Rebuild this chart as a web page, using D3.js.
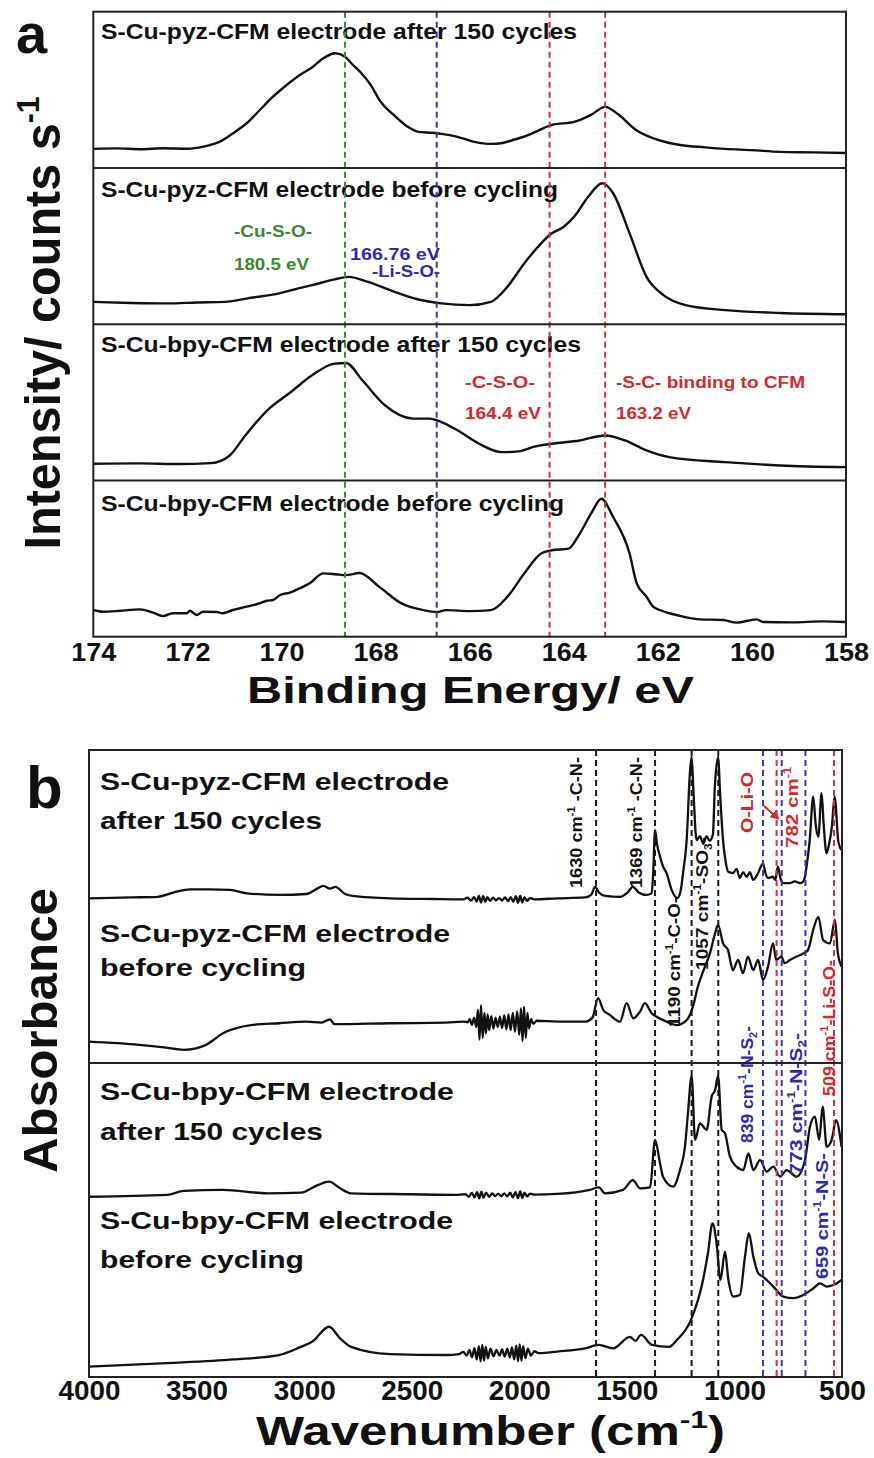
<!DOCTYPE html>
<html><head><meta charset="utf-8">
<script src="https://cdn.jsdelivr.net/npm/d3@7"></script>
<style>html,body{margin:0;padding:0;background:#fff}</style>
</head><body>
<svg id="c" width="874" height="1458"></svg>
<script>
// ================= DATA =================
// Panel a : XPS S 2p, binding energy (eV) vs intensity (a.u., per sub-panel)
const xpsTicks = [174, 172, 170, 168, 166, 164, 162, 160, 158];
const xpsTitles = [
  "S-Cu-pyz-CFM electrode after 150 cycles",
  "S-Cu-pyz-CFM electrode before cycling",
  "S-Cu-bpy-CFM electrode after 150 cycles",
  "S-Cu-bpy-CFM electrode before cycling"
];
const xpsRefLines = [168.65, 166.7, 164.3, 163.12];
const xpsPyzAfter = [[174,12.2],[173.5,12.5],[173,12.0],[172.5,12.6],[172,12.3],[171.66,13.6],[171.31,16.8],[171.03,22.2],[170.74,28.6],[170.46,37.1],[170.18,45.6],[169.89,53.1],[169.61,59.5],[169.33,64.8],[169.11,70.2],[168.86,73.4],[168.65,71.2],[168.48,65.9],[168.33,61.6],[168.1,53],[167.92,43.6],[167.57,32.7],[167.3,26],[167.09,23.1],[166.8,22.5],[166.6,21.8],[166.26,19.9],[165.9,16.7],[165.55,15.4],[165.3,16.0],[165.08,17.9],[164.8,20.5],[164.6,23.1],[164.25,27.6],[163.78,29.5],[163.42,34.0],[163.12,39.1],[162.83,34.0],[162.47,24.4],[162.12,19.2],[161.8,16.3],[161.52,14.7],[161,13.2],[160.57,12.2],[160,11.4],[159.4,10.3],[158.7,10.0],[158,9.6]];
const xpsPyzBefore = [[174,14.3],[173.2,13.6],[172.4,13.3],[171.8,13.9],[171.2,14.3],[170.65,16.9],[170.05,19.7],[169.7,22.5],[169.35,25.0],[168.87,28.7],[168.58,30.3],[168.16,27.1],[167.69,21.8],[167.09,15.8],[166.6,13.3],[166.0,12.2],[165.55,14.3],[165.2,23.9],[164.84,38.9],[164.48,51.7],[164.3,57.1],[164.0,62.4],[163.78,68.8],[163.48,81.6],[163.18,90.2],[162.95,83.8],[162.6,58.1],[162.24,30.3],[161.88,18.6],[161.41,12.2],[160.57,9.0],[159.4,7.2],[158,6.4]];
const xpsBpyAfter = [[174,10.7],[173,10.9],[172.2,10.5],[171.5,11.1],[171.1,16.0],[170.77,28.8],[170.3,44.9],[169.8,56.6],[169.35,67.3],[168.87,74.8],[168.63,75.2],[168.28,64.1],[167.8,48.1],[167.21,39.6],[166.85,39.6],[166.6,37.4],[166.26,32.1],[165.8,23.5],[165.32,18.1],[164.96,18.6],[164.6,21.8],[164.25,23.5],[163.66,25.6],[163.12,28.8],[162.7,25.6],[162.24,19.2],[161.76,14.9],[160.57,11.7],[159.4,9.6],[158,8.5]];
const xpsBpyBefore = [[174,17.1],[173.79,16.0],[173.43,16.6],[173.01,17.5],[172.73,15.4],[172.52,13.2],[172.31,15.0],[172.01,15.0],[171.95,16.6],[171.8,13.9],[171.67,16.0],[171.37,15.8],[171.25,15.0],[171.03,17.1],[170.74,19.2],[170.46,21.4],[170.31,23.0],[170.18,23.5],[170.03,26.7],[169.82,28.2],[169.61,31.0],[169.4,34.2],[169.11,40.5],[168.85,40.0],[168.63,39.4],[168.34,40.8],[167.92,31.9],[167.45,21.3],[166.98,17.0],[166.7,15.8],[166.5,17.0],[166.0,16.4],[165.55,17.0],[165.2,25.5],[164.84,40.5],[164.48,53.2],[164.25,55.3],[163.9,56.4],[163.66,66.0],[163.42,78.7],[163.2,88.3],[162.95,76.6],[162.6,53.2],[162.45,34.2],[162.24,25.6],[162.1,19.2],[161.96,17.1],[161.75,15.0],[161.46,12.8],[161.11,11.1],[160.61,10.7],[160.33,9.0],[159.9,11.1],[159.76,9.4],[159.13,9.2],[158.5,9.8],[158,9.4]];

// Panel b : FTIR, wavenumber (cm-1) vs absorbance (a.u., offset inside each box)
const ftirTicks = [4000, 3500, 3000, 2500, 2000, 1500, 1000, 500];
const ftirTitles = [
  ["S-Cu-pyz-CFM electrode", "after 150 cycles"],
  ["S-Cu-pyz-CFM electrode", "before cycling"],
  ["S-Cu-bpy-CFM electrode", "after 150 cycles"],
  ["S-Cu-bpy-CFM electrode", "before cycling"]
];
const ftirBlackLines = [1643, 1369, 1199, 1075];
const ftirBlueLines = [867, 780, 670];
const ftirRedLines = [804, 537];
const ftirPyzAfter = [[4000,52.6],[3800,52.9],[3680,53.1],[3600,54.6],[3530,55.5],[3440,55.5],[3345,55.3],[3266,54.2],[3112,53.7],[2990,54.0],[2937,55.8],[2910,56.6],[2880,55.7],[2855,56.3],[2810,54.0],[2765,53.3],[2600,52.6],[2400,52.4],[2260,52.3],
  [2240,52.8],[2225,51.9],[2210,53.0],[2198,51.6],[2188,53.4],[2178,51.3],[2168,53.3],[2158,51.5],[2148,53.0],[2136,51.8],[2122,52.8],[2108,52.0],[2094,52.7],[2080,51.9],[2066,52.9],[2052,51.7],[2040,53.0],[2028,51.5],[2016,53.3],[2006,51.2],[1996,53.4],[1986,51.3],[1976,53.0],[1964,51.8],[1950,52.7],[1930,52.3],
  [1824,52.6],[1694,52.9],[1665,53.8],[1648,56.3],[1630,54.5],[1600,53.4],[1532,53.1],[1495,54.6],[1472,56.3],[1445,54.5],[1408,53.7],[1385,54.2],[1378,60],[1369,74.4],[1360,70],[1346,66],[1330,62.5],[1315,60.6],[1292,55.3],[1265,52.7],[1250,55],[1239,60.6],[1222,71.2],[1207,92.6],[1199,97.9],[1190,86],[1176,71.2],[1160,72.5],[1145,70],[1130,72.5],[1115,71],[1100,73],[1091,88.3],[1075,97.9],[1068,88],[1053,71.2],[1040,64],[1029,61.1],[1007,60.7],[990,62],[975,59.1],[960,61],[943,59.5],[928,61],[913,58.5],[890,60.7],[867,63.8],[855,60.5],[844,59.1],[821,59.5],[810,58.5],[798,62.7],[786,59],[774,57.5],[742,57.5],[720,58],[695,57.5],[680,58],[672,59.5],[665,62.7],[650,71.2],[634,85.1],[622,76],[610,72.3],[595,86.2],[585,76],[572,67],[560,70],[549,74.4],[533,85.1],[525,78],[518,71.2],[510,69],[502,68.1]];
const ftirPyzBefore = [[4000,6.8],[3767,5.8],[3650,5.0],[3559,4.2],[3456,5.8],[3377,9.5],[3247,12.1],[3117,12.7],[2989,13.2],[2920,12.9],[2880,13.9],[2859,12.4],[2601,12.7],[2341,12.9],[2260,13.2],
  [2240,13.0],[2230,14.0],[2220,12.2],[2210,14.5],[2200,11.5],[2192,17.0],[2185,7.5],[2178,18.5],[2170,8.0],[2162,16.0],[2155,9.5],[2147,15.5],[2140,10.5],[2130,15.0],[2120,11.0],[2110,14.5],[2100,11.5],[2090,14.8],[2080,11.2],[2070,15.2],[2060,10.8],[2050,15.5],[2040,10.5],[2030,16.0],[2020,10.0],[2010,16.5],[2000,9.0],[1992,17.5],[1985,7.0],[1978,18.0],[1970,8.0],[1962,16.0],[1955,11.0],[1945,14.0],[1935,12.5],[1920,13.5],
  [1824,13.2],[1694,13.2],[1660,14.5],[1634,20.7],[1610,17],[1578,15.3],[1532,13.2],[1501,19.1],[1470,14.3],[1439,16.4],[1416,19.1],[1385,15.9],[1362,14.8],[1315,13.2],[1269,12.1],[1222,13.7],[1193,18.0],[1170,24.4],[1137,30.8],[1114,35.0],[1090,41.4],[1076,44.1],[1053,38.2],[1030,36.1],[1007,29.7],[983,32.9],[960,28.7],[937,34.0],[913,29.7],[890,32.9],[867,26.5],[844,30.8],[821,38.2],[805,32.9],[782,34.0],[767,31.9],[742,32.9],[711,34.0],[680,35.0],[658,36.1],[634,42.5],[610,46.7],[588,39.3],[556,38.2],[533,45.7],[519,35.0],[502,30.8]];
const ftirBpyAfter = [[4000,57.4],[3637,58.0],[3559,59.3],[3377,59.6],[3170,58.5],[3015,58.7],[2937,61.1],[2884,62.2],[2833,60.1],[2782,58.5],[2500,58.2],[2300,58.0],
  [2250,58.2],[2235,57.4],[2220,58.6],[2208,57.2],[2196,58.9],[2186,56.9],[2176,59.0],[2166,57.1],[2154,58.7],[2140,57.4],[2126,58.5],[2112,57.6],[2098,58.4],[2084,57.6],[2070,58.5],[2056,57.5],[2042,58.7],[2030,57.2],[2018,58.9],[2006,56.9],[1996,59.1],[1986,57.0],[1976,58.7],[1964,57.5],[1950,58.4],[1930,58.1],
  [1824,58.3],[1672,59.6],[1630,60.4],[1602,58.5],[1518,59.6],[1472,62.7],[1439,60.1],[1392,60.4],[1369,75.5],[1346,68.1],[1332,63.8],[1285,60.6],[1253,65.9],[1230,73.3],[1216,84.0],[1199,95.9],[1183,75.5],[1160,80.8],[1129,78.7],[1106,89.3],[1090,91.4],[1076,95.9],[1059,78.7],[1044,77.6],[1021,70.2],[990,67.0],[959,65.9],[935,71.2],[912,65.9],[881,69.1],[850,65.4],[819,67.0],[788,63.8],[757,65.9],[711,63.8],[672,69.1],[649,79.7],[626,82.9],[606,75.5],[590,86.1],[571,73.3],[548,75.5],[528,81.8],[502,73.3]];
const ftirBpyBefore = [[4000,3.3],[3637,4.4],[3326,5.6],[3117,7.0],[3015,9.6],[2963,11.2],[2884,16.0],[2833,12.3],[2782,9.6],[2601,7.3],[2341,7.0],
  [2280,7.3],[2260,8.0],[2245,6.8],[2232,8.6],[2220,6.3],[2208,9.2],[2198,5.6],[2188,9.8],[2180,5.0],[2172,10.2],[2164,5.2],[2156,9.6],[2146,6.0],[2134,9.0],[2120,6.6],[2106,8.6],[2092,6.8],[2080,8.8],[2068,6.5],[2056,9.0],[2044,6.2],[2034,9.4],[2024,5.6],[2014,10.0],[2006,5.0],[1998,10.4],[1990,5.2],[1982,9.8],[1972,6.0],[1960,9.0],[1946,6.8],[1930,8.2],[1910,7.6],
  [1824,8.1],[1694,9.1],[1630,10.2],[1564,9.1],[1486,12.8],[1460,11.5],[1434,13.4],[1383,10.2],[1304,9.6],[1267,11.8],[1202,18.2],[1146,30.9],[1123,39.5],[1102,48.9],[1083,42.6],[1065,30.9],[1044,39.9],[1028,30.9],[1005,25.6],[975,26.1],[951,38.3],[933,45.8],[912,38.3],[889,33.0],[866,31.9],[819,28.8],[773,25.6],[726,25.1],[680,26.1],[634,28.2],[602,29.8],[571,28.8],[540,29.3],[502,30.9]];

// ================= LAYOUT / STYLE =================
const FONT = "'Liberation Sans', Arial, Helvetica, sans-serif";
const COL = {ink:'#111', green:'#3a8a2e', blue:'#2a2ab5', red:'#d42a2a',
  dGreen:'#3d8c3d', dBlue:'#2f3ac4', dRed:'#d3303c', dBlack:'#1a1a1a'};
const svg = d3.select('#c');
svg.append('rect').attr('width', 874).attr('height', 1458).attr('fill', '#fff');
const defs = svg.append('defs');
defs.append('marker').attr('id', 'arrR').attr('viewBox', '0 0 10 10')
  .attr('refX', 8).attr('refY', 5).attr('markerWidth', 4.5).attr('markerHeight', 4.5)
  .attr('orient', 'auto').append('path').attr('d', 'M0,0L10,5L0,10z').attr('fill', COL.red);

function label(g, o) {
  const t = g.append('text')
    .attr('font-family', FONT).attr('font-weight', 'bold')
    .attr('font-size', o.size).attr('fill', o.fill || COL.ink)
    .attr('text-anchor', o.anchor || 'start');
  if (o.rot) t.attr('transform', `translate(${o.x},${o.y}) rotate(-90)`);
  else t.attr('x', o.x).attr('y', o.y);
  let cur = 0;
  const parts = typeof o.parts === 'string' ? [o.parts] : o.parts;
  parts.forEach(p => {
    const txt = Array.isArray(p) ? p[0] : p;
    const kind = Array.isArray(p) ? p[1] : null;
    const want = kind === 'sup' ? -0.42 * o.size : kind === 'sub' ? 0.22 * o.size : 0;
    const ts = t.append('tspan').text(txt).attr('dy', want - cur);
    if (kind) ts.attr('font-size', o.size * 0.62);
    cur = want;
  });
  if (o.len) t.attr('textLength', o.len).attr('lengthAdjust', 'spacingAndGlyphs');
  return t;
}

// ================= PANEL a =================
const A = {left: 93.3, right: 846, top: 11.7, bottom: 636.7};
const xA = d3.scaleLinear().domain([174, 158]).range([A.left, A.right]);
const bandA = (A.bottom - A.top) / 4;
const gA = svg.append('g');
const xpsSeries = [xpsPyzAfter, xpsPyzBefore, xpsBpyAfter, xpsBpyBefore];
const titleYA = [39, 197, 352, 511], titleLenA = [476, 457, 480, 463];
xpsSeries.forEach((s, i) => {
  const y = d3.scaleLinear().domain([0, 100]).range([A.top + bandA * (i + 1), A.top + bandA * i]);
  gA.append('path').datum(s)
    .attr('d', d3.line().curve(d3.curveMonotoneX).x(d => xA(d[0])).y(d => y(d[1])))
    .attr('fill', 'none').attr('stroke', COL.ink).attr('stroke-width', 2.4)
    .attr('stroke-linejoin', 'round');
  label(gA, {x: 101, y: titleYA[i], size: 21.5, len: titleLenA[i], parts: xpsTitles[i]});
});
// annotations
label(gA, {x: 234, y: 237, size: 16, len: 78, fill: COL.green, parts: '-Cu-S-O-'});
label(gA, {x: 234, y: 270, size: 16, len: 75, fill: COL.green, parts: '180.5 eV'});
label(gA, {x: 350, y: 260, size: 16, len: 90, fill: COL.blue, parts: '166.76 eV'});
label(gA, {x: 372, y: 277, size: 16, len: 68, fill: COL.blue, parts: '-Li-S-O-'});
label(gA, {x: 465, y: 388, size: 16, len: 70, fill: COL.red, parts: '-C-S-O-'});
label(gA, {x: 465, y: 419, size: 16, len: 76, fill: COL.red, parts: '164.4 eV'});
label(gA, {x: 616, y: 388, size: 16, len: 189, fill: COL.red, parts: '-S-C- binding to CFM'});
label(gA, {x: 616, y: 419, size: 16, len: 75, fill: COL.red, parts: '163.2 eV'});
// reference dashed lines
const refColA = [COL.dGreen, COL.dBlue, COL.dRed, COL.dRed];
gA.selectAll('line.ref').data(xpsRefLines).join('line')
  .attr('x1', d => xA(d)).attr('x2', d => xA(d)).attr('y1', A.top).attr('y2', A.bottom)
  .attr('stroke', (d, i) => refColA[i]).attr('stroke-width', 2).attr('stroke-dasharray', '6,4');
// frame
gA.append('rect').attr('x', A.left).attr('y', A.top).attr('width', A.right - A.left)
  .attr('height', A.bottom - A.top).attr('fill', 'none').attr('stroke', '#222').attr('stroke-width', 2);
[1, 2, 3].forEach(k => gA.append('line').attr('x1', A.left).attr('x2', A.right)
  .attr('y1', A.top + bandA * k).attr('y2', A.top + bandA * k).attr('stroke', '#222').attr('stroke-width', 2));
// axis
const axA = svg.append('g').attr('transform', `translate(0,${A.bottom})`)
  .call(d3.axisBottom(xA).tickValues(xpsTicks).tickSize(0).tickPadding(6).tickFormat(d3.format('d')));
axA.select('.domain').remove();
axA.selectAll('text').attr('font-family', FONT).attr('font-weight', 'bold').attr('font-size', 26)
  .attr('fill', COL.ink).attr('textLength', 45).attr('lengthAdjust', 'spacingAndGlyphs');
label(svg, {x: 470.5, y: 703, size: 37, len: 447, anchor: 'middle', parts: 'Binding Energy/ eV'});
label(svg, {x: 60, y: 323, size: 50, len: 453, anchor: 'middle', rot: true,
  parts: ['Intensity/ counts s', ['-1', 'sup']]});
label(svg, {x: 16, y: 53, size: 56, parts: 'a'});

// ================= PANEL b =================
const B = {left: 89, right: 842, top: 750, mid: 1063, bottom: 1377};
const xB = d3.scaleLinear().domain([4000, 500]).range([B.left, B.right]);
const yTopBox = d3.scaleLinear().domain([0, 100]).range([B.mid, B.top]);
const yBotBox = d3.scaleLinear().domain([0, 100]).range([B.bottom, B.mid]);
const gB = svg.append('g');
const ftirSeries = [[ftirPyzAfter, yTopBox], [ftirPyzBefore, yTopBox], [ftirBpyAfter, yBotBox], [ftirBpyBefore, yBotBox]];
ftirSeries.forEach(([s, y]) => {
  gB.append('path').datum(s)
    .attr('d', d3.line().curve(d3.curveMonotoneX).x(d => xB(d[0])).y(d => y(d[1])))
    .attr('fill', 'none').attr('stroke', COL.ink).attr('stroke-width', 2.3)
    .attr('stroke-linejoin', 'round');
});
const titleYB = [[790, 829], [942, 976], [1100, 1140], [1229, 1268]];
const titleLenB = [[349, 222], [350, 206], [354, 223], [353, 204]];
ftirTitles.forEach((t, i) => {
  label(gB, {x: 100, y: titleYB[i][0], size: 23.5, len: titleLenB[i][0], parts: t[0]});
  label(gB, {x: 100, y: titleYB[i][1], size: 23.5, len: titleLenB[i][1], parts: t[1]});
});
// dashed reference lines
const dashB = (vals, col) => gB.append('g').selectAll('line').data(vals).join('line')
  .attr('x1', d => xB(d)).attr('x2', d => xB(d)).attr('y1', B.top).attr('y2', B.bottom)
  .attr('stroke', col).attr('stroke-width', 2).attr('stroke-dasharray', '6,4');
dashB(ftirBlackLines, COL.dBlack);
dashB(ftirBlueLines, COL.dBlue);
dashB(ftirRedLines, COL.dRed);
// rotated peak labels
const cm = s => [s + ' cm', ['-1', 'sup']];
label(gB, {x: 582, y: 888, size: 17, len: 131, rot: true, parts: [...cm('1630'), [' -C-N-', null]]});
label(gB, {x: 642, y: 888, size: 17, len: 131, rot: true, parts: [...cm('1369'), [' -C-N-', null]]});
label(gB, {x: 680, y: 1027, size: 17, len: 130, rot: true, parts: [...cm('1190'), ['-C-O-', null]]});
label(gB, {x: 708, y: 970, size: 17, len: 133, rot: true, parts: [...cm('1057'), ['-SO', null], ['3', 'sub'], ['-', null]]});
label(gB, {x: 753, y: 833, size: 17, len: 61, rot: true, fill: COL.red, parts: 'O-Li-O'});
label(gB, {x: 798, y: 848, size: 17, len: 81, rot: true, fill: COL.red, parts: cm('782')});
label(gB, {x: 753, y: 1143, size: 17, len: 117, rot: true, fill: COL.blue, parts: [...cm('839'), ['-N-S', null], ['2', 'sub'], ['-', null]]});
label(gB, {x: 802, y: 1175, size: 17, len: 142, rot: true, fill: COL.blue, parts: [...cm('773'), ['-N-S', null], ['2', 'sub'], ['-', null]]});
label(gB, {x: 828, y: 1279, size: 17, len: 126, rot: true, fill: COL.blue, parts: [...cm('659'), ['-N-S-', null]]});
label(gB, {x: 835, y: 1096, size: 17, len: 136, rot: true, fill: COL.red, parts: [...cm('509'), ['-Li-S-O-', null]]});
gB.append('line').attr('x1', 764).attr('y1', 806).attr('x2', 778).attr('y2', 818.5)
  .attr('stroke', COL.red).attr('stroke-width', 2).attr('marker-end', 'url(#arrR)');
// frame
gB.append('rect').attr('x', B.left).attr('y', B.top).attr('width', B.right - B.left)
  .attr('height', B.bottom - B.top).attr('fill', 'none').attr('stroke', '#222').attr('stroke-width', 2);
gB.append('line').attr('x1', B.left).attr('x2', B.right).attr('y1', B.mid).attr('y2', B.mid)
  .attr('stroke', '#222').attr('stroke-width', 2);
// axis
const axB = svg.append('g').attr('transform', `translate(0,${B.bottom})`)
  .call(d3.axisBottom(xB).tickValues(ftirTicks).tickSize(0).tickPadding(4).tickFormat(d3.format('d')));
axB.select('.domain').remove();
axB.selectAll('text').attr('font-family', FONT).attr('font-weight', 'bold').attr('font-size', 27)
  .attr('fill', COL.ink).attr('textLength', d => d >= 1000 ? 62 : 47).attr('lengthAdjust', 'spacingAndGlyphs');
label(svg, {x: 256, y: 1445, size: 40, len: 469, parts: ['Wavenumber (cm', ['-1', 'sup'], [')', null]]});
label(svg, {x: 57, y: 1173, size: 48, len: 285, rot: true, parts: 'Absorbance'});
label(svg, {x: 26, y: 808, size: 60, parts: 'b'});
</script>
</body></html>
